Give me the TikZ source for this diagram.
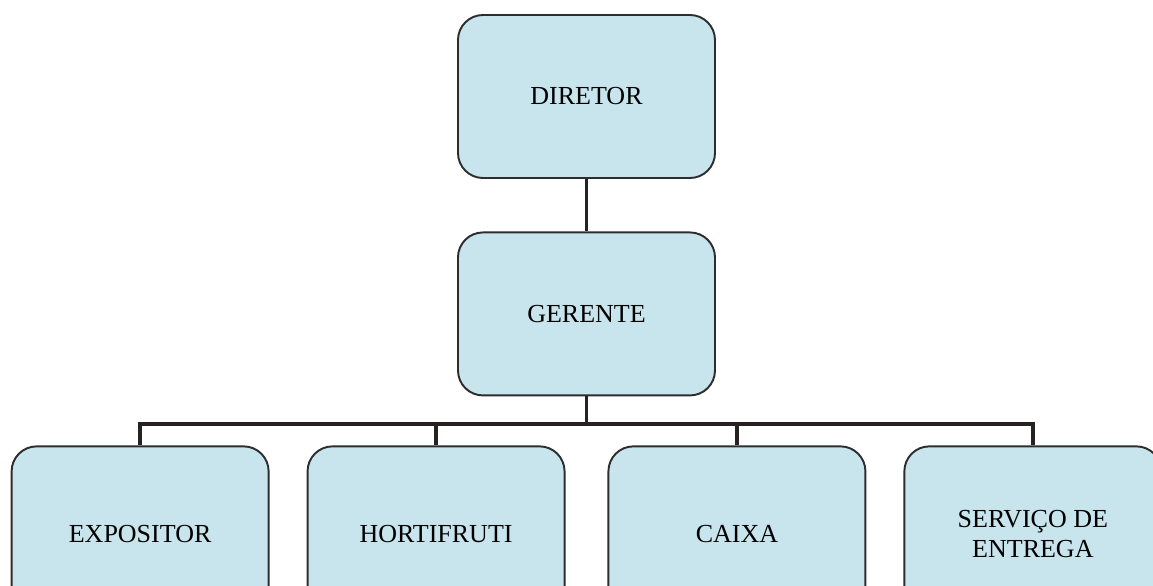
\documentclass[tikz,border=0pt]{standalone}
\usepackage{fontspec}
\setmainfont{Liberation Serif}
\usetikzlibrary{positioning}

\definecolor{boxfill}{RGB}{200,229,237}
\definecolor{boxline}{RGB}{45,45,45}
\definecolor{linkline}{RGB}{38,34,34}

\begin{document}
\begin{tikzpicture}[
    box/.style={draw=boxline, fill=boxfill, line width=1.1pt, rounded corners=0.5cm,
        minimum width=5.14cm, minimum height=3.26cm, align=center,
        font=\fontsize{14.8}{17}\selectfont},
    lowbox/.style={box, minimum height=3.5cm},
    link/.style={draw=linkline, line width=2.2pt}
]
\clip (-11.73,-9.79) rectangle (11.33,1.93);
\node[box] (diretor) {DIRETOR};
\node[box, below=1.05cm of diretor] (gerente) {GERENTE};
\node[lowbox, below left=0.98cm and -2.17cm of gerente] (hortifruti) {HORTIFRUTI};
\node[lowbox, left=0.74cm of hortifruti] (expositor) {EXPOSITOR};
\node[lowbox, below right=0.98cm and -2.17cm of gerente] (caixa) {CAIXA};
\node[lowbox, right=0.74cm of caixa] (servico) {SERVIÇO DE\\ENTREGA};
\coordinate[below=0.56cm of gerente.south] (bus);
% ligacoes
\draw[link] (diretor) -- (gerente);
\draw[link] (gerente) -- (bus);
\draw[link] (expositor.north) |- (bus) -| (servico.north);
\draw[link] (hortifruti.north) -- (hortifruti.north |- bus);
\draw[link] (caixa.north) -- (caixa.north |- bus);
\end{tikzpicture}
\end{document}
